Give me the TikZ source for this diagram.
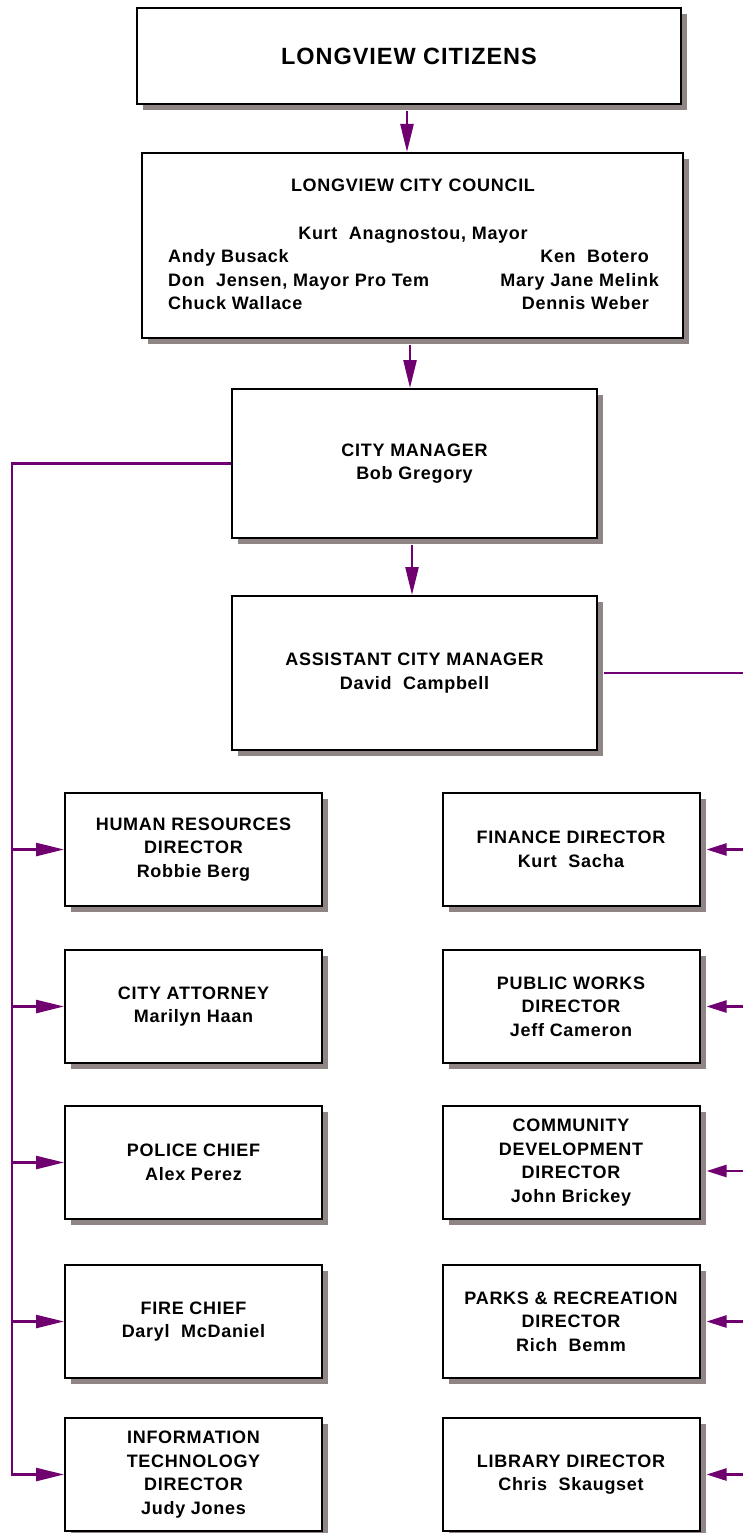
\documentclass[tikz,border=0pt]{standalone}
\usepackage{fontspec}
\setmainfont{Liberation Sans}[LetterSpace=4]
\usetikzlibrary{arrows.meta,shadows}
\definecolor{linkpurple}{RGB}{112,0,112}
\definecolor{shadowgray}{RGB}{143,133,133}

\begin{document}
\begin{tikzpicture}[x=1pt,y=-1pt,
    box/.style={draw,line width=2pt,fill=white,align=center,
        font=\bfseries\fontsize{18}{23.5}\selectfont,
        drop shadow={shadow xshift=6pt,shadow yshift=-6pt,fill=shadowgray,opacity=1}},
    small/.style={box,minimum width=257pt,minimum height=113pt},
    txt/.style={font=\bfseries\fontsize{18}{23.5}\selectfont,inner sep=0pt,text height=13pt,text depth=3pt},
    link/.style={draw=linkpurple,line width=2.5pt},
    tip/.style={-{Triangle[length=28pt,width=13pt]}},
    rtip/.style={-{Triangle[length=20pt,width=12pt]}}]
    \useasboundingbox (0,0) rectangle (742,1533);
    % top of the chart
    \node[box,minimum width=544pt,minimum height=96pt,font=\bfseries\fontsize{23.5}{26}\selectfont]
        (cit) at (409,56) {LONGVIEW CITIZENS};
    \node[box,minimum width=541pt,minimum height=185pt] (coun) at (412.5,245.5) {};
    \node[txt] (ctitle) at (413,187) {LONGVIEW CITY COUNCIL};
    \node[txt] (mayor) at (413,234) {Kurt\ \ Anagnostou, Mayor};
    \node[txt,anchor=west] (andy) at (168,257) {Andy Busack};
    \node[txt,anchor=west] (don) at (168,281) {Don\ \ Jensen, Mayor Pro Tem};
    \node[txt,anchor=west] (chuck) at (168,304) {Chuck Wallace};
    \node[txt,anchor=east] (ken) at (649,257) {Ken\ \ Botero};
    \node[txt,anchor=east] (mary) at (659,281) {Mary Jane Melink};
    \node[txt,anchor=east] (dennis) at (649,304) {Dennis Weber};
    \node[box,minimum width=365pt,minimum height=149pt] (mgr) at (414.5,463.5)
        {CITY MANAGER\\Bob Gregory};
    \node[box,minimum width=365pt,minimum height=154pt] (asst) at (414.5,673)
        {ASSISTANT CITY MANAGER\\David\ \ Campbell};
    % left column
    \node[small] (hr) at (193.5,849.5) {HUMAN RESOURCES\\DIRECTOR\\Robbie Berg};
    \node[small] (att) at (193.5,1006.5) {CITY ATTORNEY\\Marilyn Haan};
    \node[small] (pol) at (193.5,1162.5) {POLICE CHIEF\\Alex Perez};
    \node[small] (fire) at (193.5,1321.5) {FIRE CHIEF\\Daryl\ \ McDaniel};
    \node[small] (it) at (193.5,1474.5) {INFORMATION\\TECHNOLOGY\\DIRECTOR\\Judy Jones};
    % right column
    \node[small] (fin) at (571,849.5) {FINANCE DIRECTOR\\Kurt\ \ Sacha};
    \node[small] (pw) at (571,1006.5) {PUBLIC WORKS\\DIRECTOR\\Jeff Cameron};
    \node[small] (com) at (571,1162.5) {COMMUNITY\\DEVELOPMENT\\DIRECTOR\\John Brickey};
    \node[small] (par) at (571,1321.5) {PARKS \& RECREATION\\DIRECTOR\\Rich\ \ Bemm};
    \node[small] (lib) at (571,1474.5) {LIBRARY DIRECTOR\\Chris\ \ Skaugset};
    % connectors
    \draw[link,tip,shorten <=6pt] ([xshift=-2pt]cit.south) -- ([xshift=-2pt]cit.south |- coun.north);
    \draw[link,tip,shorten <=6pt] ([xshift=-2.5pt]coun.south) -- ([xshift=-2.5pt]coun.south |- mgr.north);
    \draw[link,tip,shorten <=6pt] ([xshift=-2.5pt]mgr.south) -- ([xshift=-2.5pt]mgr.south |- asst.north);
    \coordinate (lbus) at (12,0);
    \draw[link,tip] (mgr.west) -| (lbus |- it.west) -- (it.west);
    \foreach \n in {hr,att,pol,fire}
        \draw[link,tip] (lbus |- \n.west) -- (\n.west);
    \coordinate (rbus) at (748,0);
    \coordinate (comin) at ([yshift=-8.5pt]com.east);
    \draw[link,shorten <=6pt] (asst.east) -| (rbus |- lib.east);
    \foreach \n in {fin.east,pw.east,comin,par.east,lib.east}
        \draw[link,rtip,shorten >=6pt] (rbus |- \n) -- (\n);
\end{tikzpicture}
\end{document}
